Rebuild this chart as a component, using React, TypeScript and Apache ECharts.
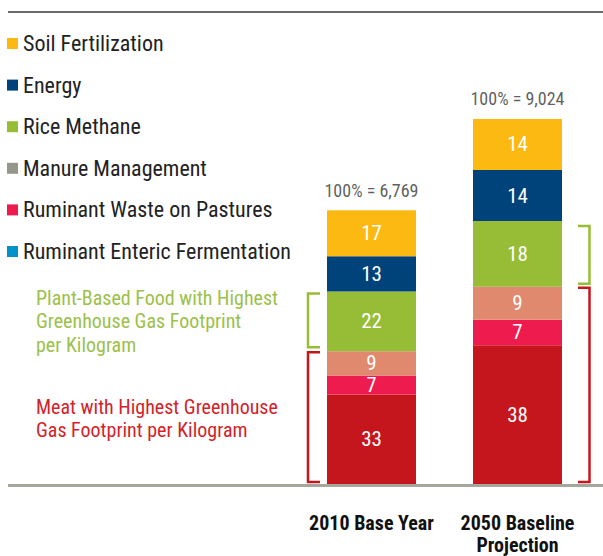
import React, { useEffect, useRef } from "react";
import * as echarts from "echarts";

const FONT =
  "'Liberation Sans Narrow', 'Roboto Condensed', 'DejaVu Sans Condensed', 'Arial Narrow', sans-serif";

const categories = ["2010 Base Year", "2050 Baseline\nProjection"];
const totals = [6769, 9024];
const totalLabels = ["100% = 6,769", "100% = 9,024"];

// stacked bottom to top (percent of total)
const seriesNames = [
  "Ruminant Enteric Fermentation",
  "Ruminant Waste on Pastures",
  "Manure Management",
  "Rice Methane",
  "Energy",
  "Soil Fertilization",
];
const entericPct = [33, 38];
const wastePct = [7, 7];
const manurePct = [9, 9];
const ricePct = [22, 18];
const energyPct = [13, 14];
const soilPct = [17, 14];
const allPct = [entericPct, wastePct, manurePct, ricePct, energyPct, soilPct];

const barColors = ["#C4161C", "#EE1B4E", "#E0896E", "#97BC35", "#00427A", "#FBB912"];
const legendColors = ["#0092C8", "#EE1B4E", "#96968A", "#97BC35", "#00427A", "#FBB912"];

const plantNote = "Plant-Based Food with Highest\nGreenhouse Gas Footprint\nper Kilogram";
const meatNote = "Meat with Highest Greenhouse\nGas Footprint per Kilogram";

export default function App() {
  const ref = useRef<HTMLDivElement>(null);
  useEffect(() => {
    const chart = echarts.init(ref.current!, null, { renderer: "svg" });
    const sums = categories.map((_, i) => allPct.reduce((a, p) => a + p[i], 0));
    const values = allPct.map((p) => p.map((v, i) => (v * totals[i]) / sums[i]));

    const barSeries = seriesNames.map((name, s) => ({
      name,
      type: "bar",
      stack: "total",
      barWidth: 89,
      data: values[s],
      itemStyle: { color: barColors[s] },
      label: {
        show: true,
        position: "inside",
        color: "#fff",
        fontSize: 21,
        lineHeight: 15,
        fontFamily: FONT,
        formatter: (p: any) => String(allPct[s][p.dataIndex]),
      },
      silent: true,
    }));

    const legendData = [...seriesNames]
      .map((name, s) => ({ name, itemStyle: { color: legendColors[s] } }))
      .reverse();

    chart.setOption({
      animation: false,
      grid: { left: 298.5, right: 12.5, top: 79.4, bottom: 72 },
      legend: {
        orient: "vertical",
        left: 7,
        top: 32,
        padding: 0,
        itemWidth: 11,
        itemHeight: 11,
        itemGap: 18.6,
        icon: "rect",
        selectedMode: false,
        data: legendData,
        textStyle: { fontSize: 22, fontFamily: FONT, color: "#222", lineHeight: 23 },
      },
      xAxis: {
        type: "category",
        data: categories,
        axisLine: { show: false },
        axisTick: { show: false },
        axisLabel: {
          interval: 0,
          hideOverlap: false,
          margin: 28,
          fontSize: 20,
          fontWeight: "bold",
          fontFamily: FONT,
          color: "#111",
          lineHeight: 22,
        },
      },
      yAxis: { type: "value", min: 0, max: 10000, show: false },
      series: [
        ...barSeries,
        {
          name: "total",
          type: "scatter",
          symbolSize: 0,
          data: totals,
          silent: true,
          label: {
            show: true,
            position: "top",
            distance: 11,
            fontSize: 18,
            fontFamily: FONT,
            color: "#333",
            formatter: (p: any) => totalLabels[p.dataIndex],
          },
        },
      ],
    });

    // brackets derived from the data
    const cum = (i: number, n: number) => values.slice(0, n).reduce((a, v) => a + v[i], 0);
    const yPix = (i: number, v: number) =>
      (chart.convertToPixel({ gridIndex: 0 }, [i, v]) as number[])[1];
    const xPix = (i: number) => (chart.convertToPixel({ gridIndex: 0 }, [i, 0]) as number[])[0];

    const bracket = (xv: number, xt: number, y1: number, y2: number, color: string) => ({
      type: "polyline",
      silent: true,
      shape: { points: [[xt, y1], [xv, y1], [xv, y2], [xt, y2]] },
      style: { stroke: color, lineWidth: 2.5, fill: null },
    });

    const l1 = xPix(0) - 44.5;
    const r2 = xPix(1) + 44.5;
    const b1 = [yPix(0, cum(0, 4)), yPix(0, cum(0, 3)), yPix(0, 0)];
    const b2 = [yPix(1, cum(1, 4)), yPix(1, cum(1, 3)), yPix(1, 0)];

    chart.setOption({
      graphic: [
        {
          type: "line",
          silent: true,
          shape: { x1: 8, y1: 12, x2: 603, y2: 12 },
          style: { stroke: "#3a3a3a", lineWidth: 1.5 },
        },
        {
          type: "line",
          silent: true,
          shape: { x1: 8, y1: 485.5, x2: 603, y2: 485.5 },
          style: { stroke: "#A5A69C", lineWidth: 3 },
        },
        bracket(l1 - 19, l1 - 7, b1[0] + 2, b1[1] - 4, "#97BC35"),
        bracket(l1 - 19, l1 - 7, b1[1] + 1, b1[2] - 2, "#C4161C"),
        bracket(r2 + 27.5, r2 + 16, b2[0] + 5, b2[1] - 3, "#97BC35"),
        bracket(r2 + 27.5, r2 + 16, b2[1] + 1, b2[2] - 2, "#C4161C"),
        {
          type: "text",
          silent: true,
          x: 36,
          y: 286,
          style: {
            text: plantNote,
            fill: "#9CC14A",
            fontSize: 20,
            fontFamily: FONT,
            lineHeight: 23.5,
            verticalAlign: "top",
          },
        },
        {
          type: "text",
          silent: true,
          x: 36,
          y: 395,
          style: {
            text: meatNote,
            fill: "#D2232A",
            fontSize: 20,
            fontFamily: FONT,
            lineHeight: 23.5,
            verticalAlign: "top",
          },
        },
      ],
    });

    return () => chart.dispose();
  }, []);
  return (
    <div
      ref={ref}
      style={{ position: "absolute", left: 0, top: 0, width: 603, height: 556 }}
    />
  );
}
